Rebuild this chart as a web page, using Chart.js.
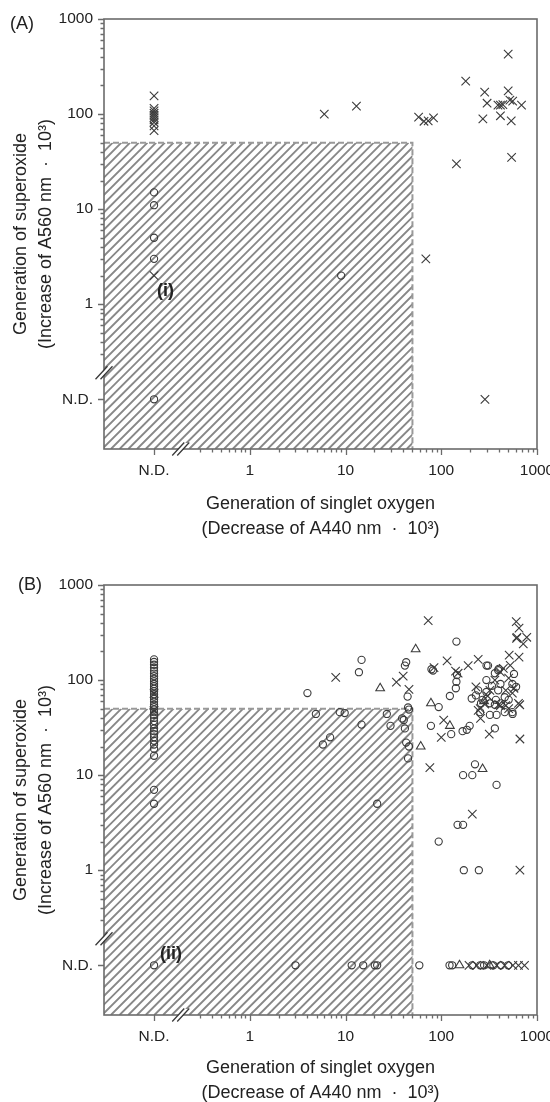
<!DOCTYPE html>
<html>
<head>
<meta charset="utf-8">
<script src="https://cdn.jsdelivr.net/npm/chart.js@4.4.1/dist/chart.umd.min.js"></script>
<style>
  html, body { margin: 0; padding: 0; background: #fff; overflow: hidden; }
  .panel { position: absolute; left: 0; width: 550px; height: 566px; }
  #panelA { top: 0; }
  #panelB { top: 566px; }
</style>
</head>
<body>
<div class="panel" id="panelA"><canvas id="chartA" width="550" height="566"></canvas></div>
<div class="panel" id="panelB"><canvas id="chartB" width="550" height="566"></canvas></div>
<script>
// "N.D." (not detected) is kept as a marker in the data and placed on the N.D. tick
const ND = 'ND';
const ND_VALUE = 0.1;
const BREAK_VALUE = 0.19;
const CUTOFF = 50;
const AXIS_MIN = 0.03, AXIS_MAX = 1000;

const majorTicks = [0.1, 1, 10, 100, 1000];
const majorLabels = ['N.D.', '1', '10', '100', '1000'];
const minorTicks = [0.3, 0.4, 0.5, 0.6, 0.7, 0.8, 0.9,
                    2, 3, 4, 5, 6, 7, 8, 9,
                    20, 30, 40, 50, 60, 70, 80, 90,
                    200, 300, 400, 500, 600, 700, 800, 900];

const xTitle = ['Generation of singlet oxygen', '(Decrease of A440 nm  \u00b7  10\u00b3)'];
const yTitle = ['Generation of superoxide', '(Increase of A560 nm  \u00b7  10\u00b3)'];

// panel (A)
const aCircleX = [ND, ND, ND, ND, ND, 9];
const aCircleY = [15, 11, 5, 3, ND, 2];
const aCrossX = [ND, ND, ND, ND, ND, ND, ND, ND, ND, ND, ND,
                 6, 13, 58, 66, 73, 83, 69, 144, 180, 284, 301, 272, 391, 415, 440, 415,
                 500, 500, 521, 557, 538, 543, 689, 286];
const aCrossY = [155, 115, 108, 102, 97, 92, 87, 82, 75, 67, 2,
                 100, 121, 93, 84, 85, 91, 3, 30, 222, 170, 130, 89, 124, 124, 126, 96,
                 428, 175, 140, 137, 85, 35, 124, ND];
const aTriX = [];
const aTriY = [];

// panel (B)
const bCircleX = [ND, ND, ND, ND, ND, ND, ND, ND, ND, ND, ND, ND, ND, ND, ND, ND, ND, ND,
                  ND, ND, ND, ND, ND, ND, ND, ND, ND, ND, ND, ND, ND, ND, ND, ND, ND, ND,
                  4.0, 14.7, 13.8, 43, 41.7, 44.5, 45, 79, 82, 144, 146, 144, 142, 123, 297, 393,
                  4.9, 8.7, 9.8, 14.7, 6.9, 5.8, 27, 29.5, 39, 40.6, 46, 41.7, 43, 46, 45, 21.4,
                  78, 94, 127, 167, 185, 198, 225, 169, 211, 378, 148, 169, 94, 172, 247,
                  322, 378, 363, 556, 260, 322, 363, 420,
                  208, 243, 270, 296, 338, 372, 393, 415, 460, 506, 553, 575, 605, 363, 296,
                  230, 255, 460, 553, 308, 398,
                  3, 11.6, 15.3, 20.2, 21.4, 59, 122, 130, 210, 255, 280, 350, 420, 500];
const bCircleY = [165, 155, 145, 135, 125, 117, 110, 103, 97, 91, 86, 81, 76, 71, 67, 63, 59, 55,
                  52, 49, 46, 43, 40, 37, 34, 31, 29, 27, 25, 23, 21, 19, 16, 7, 5, ND,
                  73, 163, 121, 154, 142, 67, 51.5, 130, 126, 254, 113, 96, 82, 68, 142, 127,
                  44, 46, 45, 34, 25, 21, 44, 33, 39.5, 38, 49, 31, 22, 20, 15, 5,
                  33, 52, 27, 29, 30, 33, 13, 10, 10, 7.9, 3, 3, 2, 1, 1,
                  43, 43, 31, 44, 57, 57, 55, 57,
                  64, 78, 62, 75, 87, 62, 78, 91, 66, 62, 91, 116, 85, 118, 100,
                  69, 46, 46, 46, 142, 131,
                  ND, ND, ND, ND, ND, ND, ND, ND, ND, ND, ND, ND, ND, ND];
const bCrossX = [ND, ND,
                 73, 7.9, 34, 40, 46, 84, 115, 141, 150, 191, 243, 512, 612, 607, 649, 782, 617, 719, 649,
                 76, 106, 100, 663, 663, 257, 317, 243, 211, 284, 398, 472, 660,
                 230, 255, 322, 363, 415, 445, 472, 506, 525, 553, 575, 415, 305, 640, 506,
                 195, 235, 300, 380, 460, 560, 640, 740];
const bCrossY = [72, 48,
                 423, 107, 95, 110, 80, 135, 159, 124, 118, 142, 165, 183, 275, 412, 351, 282, 282, 240, 174,
                 12, 38, 25, 1, 24, 39.5, 27, 48, 3.9, 56, 55, 54, 55,
                 85, 50, 78, 100, 121, 133, 78, 105, 143, 73, 82, 54, 68, 57, 50,
                 ND, ND, ND, ND, ND, ND, ND, ND];
const bTriX = [54, 23, 78, 61, 123, 270, 280, 155, 320];
const bTriY = [211, 82, 57, 20, 33, 11.6, 60, ND, ND];

const FONT = "'Liberation Sans', Arial, sans-serif";
const INK = '#222';
const FRAME = '#6b6b6b';

function toPoints(xs, ys) {
  return xs.map((v, i) => ({
    x: v === ND ? ND_VALUE : v,
    y: ys[i] === ND ? ND_VALUE : ys[i]
  }));
}

function markerSet(label, xs, ys, style, radius) {
  return {
    label: label,
    data: toPoints(xs, ys),
    pointStyle: style,
    pointRadius: radius,
    pointBorderColor: '#3a3a3a',
    pointBackgroundColor: 'rgba(0,0,0,0)',
    pointBorderWidth: 1.1
  };
}

function tickLabel(value) {
  const i = majorTicks.findIndex(t => Math.abs(t - value) < 1e-9);
  return i >= 0 ? majorLabels[i] : '';
}

function setTicks(scale) {
  scale.ticks = majorTicks.concat(minorTicks).sort((a, b) => a - b).map(v => ({ value: v }));
}

const decorations = {
  id: 'decorations',
  beforeDatasetsDraw(chart, args, opts) {
    const { ctx, chartArea: a, scales: { x, y } } = chart;
    const xc = x.getPixelForValue(CUTOFF), yc = y.getPixelForValue(CUTOFF);
    const h = a.bottom - yc;
    ctx.save();
    ctx.beginPath();
    ctx.rect(a.left, yc, xc - a.left, h);
    ctx.clip();
    ctx.strokeStyle = '#888';
    ctx.lineWidth = 1.9;
    ctx.beginPath();
    for (let k = a.left - h; k < xc; k += 8.7) {
      ctx.moveTo(k, a.bottom);
      ctx.lineTo(k + h, yc);
    }
    ctx.stroke();
    ctx.restore();

    ctx.save();
    ctx.strokeStyle = '#999';
    ctx.lineWidth = 2;
    ctx.setLineDash([6, 3]);
    ctx.beginPath();
    ctx.moveTo(a.left, yc);
    ctx.lineTo(xc, yc);
    ctx.lineTo(xc, a.bottom);
    ctx.stroke();
    ctx.restore();
  },
  afterDraw(chart, args, opts) {
    const { ctx, chartArea: a, scales: { x, y } } = chart;
    ctx.save();
    ctx.strokeStyle = FRAME;
    ctx.lineWidth = 1.6;
    ctx.strokeRect(a.left, a.top, a.right - a.left, a.bottom - a.top);

    // tick marks, outside the frame
    ctx.beginPath();
    majorTicks.concat(minorTicks).forEach(v => {
      const len = majorTicks.includes(v) ? 6 : 3.5;
      const px = Math.round(x.getPixelForValue(v)) + 0.5;
      ctx.moveTo(px, a.bottom);
      ctx.lineTo(px, a.bottom + len);
      const py = Math.round(y.getPixelForValue(v)) + 0.5;
      ctx.moveTo(a.left, py);
      ctx.lineTo(a.left - len, py);
    });
    ctx.lineWidth = 1.3;
    ctx.stroke();

    // axis breaks
    const bx = x.getPixelForValue(BREAK_VALUE);
    const by = y.getPixelForValue(BREAK_VALUE);
    [[bx, a.bottom], [a.left, by]].forEach(([cx, cy]) => {
      ctx.fillStyle = '#fff';
      ctx.beginPath();
      ctx.moveTo(cx - 8, cy + 6);
      ctx.lineTo(cx + 4, cy - 6);
      ctx.lineTo(cx + 8, cy - 6);
      ctx.lineTo(cx - 4, cy + 6);
      ctx.closePath();
      ctx.fill();
      ctx.strokeStyle = '#3a3a3a';
      ctx.lineWidth = 1.3;
      ctx.beginPath();
      [-2.5, 2.5].forEach(d => {
        ctx.moveTo(cx + d - 6, cy + 6.5);
        ctx.lineTo(cx + d + 6, cy - 6.5);
      });
      ctx.stroke();
    });

    ctx.fillStyle = INK;
    ctx.textBaseline = 'middle';
    ctx.textAlign = 'left';
    ctx.font = '18px ' + FONT;
    ctx.fillText(opts.panel, opts.panelX, opts.panelY);
    ctx.font = 'bold 18px ' + FONT;
    ctx.fillText(opts.note, opts.noteX, opts.noteY);
    ctx.restore();
  }
};

function buildChart(id, sets, deco, xTitlePad) {
  return new Chart(document.getElementById(id), {
    type: 'scatter',
    data: {
      datasets: [
        markerSet('circle', sets.circleX, sets.circleY, 'circle', 3.6),
        markerSet('cross', sets.crossX, sets.crossY, 'crossRot', 6),
        markerSet('triangle', sets.triX, sets.triY, 'triangle', 5)
      ]
    },
    options: {
      responsive: false,
      animation: false,
      devicePixelRatio: 1,
      layout: { padding: { top: 19, right: 13, left: 0, bottom: 0 } },
      plugins: {
        legend: { display: false },
        tooltip: { enabled: false },
        decorations: deco
      },
      scales: {
        x: {
          type: 'logarithmic',
          position: 'bottom',
          min: AXIS_MIN,
          max: AXIS_MAX,
          bounds: 'data',
          afterBuildTicks: setTicks,
          afterFit: s => { s.height = 117; s.paddingLeft = 0; s.paddingRight = 0; },
          grid: { display: false, drawTicks: false },
          border: { display: false },
          ticks: {
            autoSkip: false, maxRotation: 0, padding: 12, color: INK,
            font: { family: FONT, size: 15.5 },
            callback: tickLabel
          },
          title: {
            display: true, text: xTitle, color: INK,
            font: { family: FONT, size: 18, lineHeight: '25px' },
            padding: { top: 0, bottom: xTitlePad }
          }
        },
        y: {
          type: 'logarithmic',
          position: 'left',
          min: AXIS_MIN,
          max: AXIS_MAX,
          bounds: 'data',
          afterBuildTicks: setTicks,
          afterFit: s => { s.width = 104; s.paddingTop = 0; s.paddingBottom = 0; },
          grid: { display: false, drawTicks: false },
          border: { display: false },
          ticks: {
            autoSkip: false, padding: 11, color: INK,
            font: { family: FONT, size: 15.5 },
            callback: tickLabel
          },
          title: {
            display: true, text: yTitle, color: INK,
            font: { family: FONT, size: 18, lineHeight: '25px' },
            padding: { top: 8.5, bottom: 0 }
          }
        }
      }
    },
    plugins: [decorations]
  });
}

buildChart('chartA',
  { circleX: aCircleX, circleY: aCircleY, crossX: aCrossX, crossY: aCrossY, triX: aTriX, triY: aTriY },
  { panel: '(A)', panelX: 10, panelY: 24, note: '(i)', noteX: 157, noteY: 291 },
  24.5);

buildChart('chartB',
  { circleX: bCircleX, circleY: bCircleY, crossX: bCrossX, crossY: bCrossY, triX: bTriX, triY: bTriY },
  { panel: '(B)', panelX: 18, panelY: 19, note: '(ii)', noteX: 160, noteY: 388 },
  26.5);
</script>
</body>
</html>
